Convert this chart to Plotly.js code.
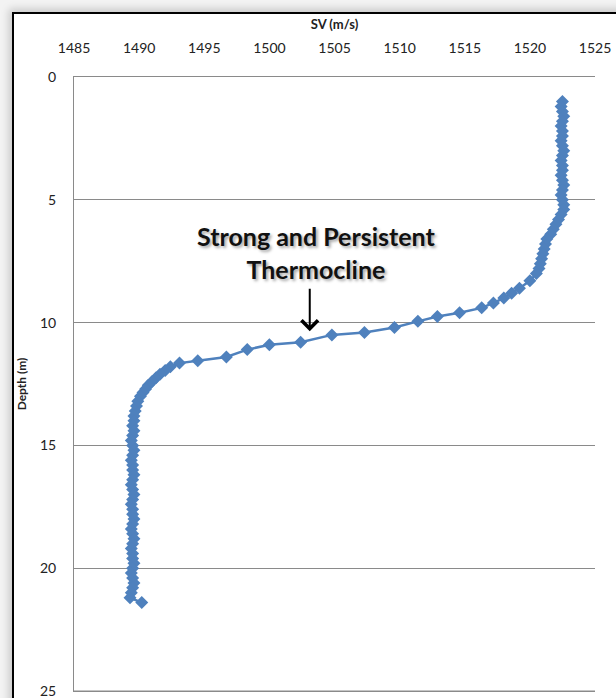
<!DOCTYPE html>
<html>
<head>
<meta charset="utf-8">
<script src="https://cdn.plot.ly/plotly-3.0.1.min.js"></script>
<style>
  html, body { margin: 0; padding: 0; background: #f3f3f3; }
  #frame { position: absolute; left: 12px; top: 12px; width: 720px; height: 800px;
           background: #ffffff; border-left: 2px solid #000; border-top: 2px solid #000;
           box-shadow: -3px -3px 8px rgba(0,0,0,0.18); }
  #chart { position: absolute; left: 0; top: 0; width: 616px; height: 698px; }
  #chart .annotation-text { text-shadow: 2px 2px 3px rgba(0,0,0,0.35); }
</style>
</head>
<body>
<div id="frame"></div>
<div id="chart"></div>
<script>
// Depth (m)
const depth = [
  1.0, 1.2, 1.4, 1.6, 1.8, 2.0, 2.2, 2.4, 2.6, 2.8, 3.0, 3.2, 3.4, 3.6, 3.8, 4.0, 4.2, 4.4, 4.6, 4.8, 5.0, 5.2,
  5.4, 5.6, 5.8, 6.0, 6.2, 6.4, 6.6, 6.8, 7.0, 7.2, 7.4, 7.6, 7.8, 8.0, 8.3, 8.6, 8.8, 9.0, 9.2, 9.4, 9.6, 9.75, 9.95, 10.2, 10.4, 10.5, 10.8, 10.9, 11.1, 11.4, 11.55, 11.65,
  11.8, 11.95, 12.1, 12.25, 12.4, 12.55, 12.7, 12.85, 13.0, 13.2, 13.4, 13.6, 13.8, 14.0, 14.2,
  14.4, 14.6, 14.8, 15.0, 15.2, 15.4, 15.6, 15.8, 16.0, 16.2, 16.4, 16.6, 16.8, 17.0, 17.2, 17.4, 17.6, 17.8, 18.0, 18.2, 18.4, 18.6, 18.8, 19.0, 19.2, 19.4, 19.6, 19.8, 20.0, 20.2, 20.4, 20.6, 20.8, 21.0, 21.2, 21.4
];
// Sound velocity (m/s)
const soundVelocity = [
  1522.5, 1522.4, 1522.5, 1522.6, 1522.5, 1522.4, 1522.5, 1522.5, 1522.4, 1522.5, 1522.6, 1522.5, 1522.4, 1522.5, 1522.5, 1522.4, 1522.5, 1522.6, 1522.5, 1522.4, 1522.5, 1522.6,
  1522.6, 1522.4, 1522.2, 1522.0, 1521.8, 1521.6, 1521.3, 1521.2, 1521.1, 1521.0, 1520.9, 1520.8, 1520.7, 1520.5, 1520.0, 1519.2, 1518.6, 1518.0, 1517.2, 1516.3, 1514.6, 1512.9, 1511.4, 1509.6, 1507.3, 1504.8, 1502.4, 1500.0, 1498.3, 1496.7, 1494.5, 1493.1,
  1492.4, 1492.0, 1491.6, 1491.3, 1491.0, 1490.7, 1490.5, 1490.3, 1490.1, 1489.9, 1489.8, 1489.7, 1489.6, 1489.6, 1489.5,
  1489.6, 1489.5, 1489.4, 1489.5, 1489.6, 1489.5, 1489.4, 1489.5, 1489.5, 1489.6, 1489.5, 1489.4, 1489.5, 1489.6, 1489.5, 1489.4, 1489.5, 1489.5, 1489.6, 1489.5, 1489.4, 1489.5, 1489.6, 1489.5, 1489.4, 1489.5, 1489.5, 1489.6, 1489.5, 1489.4, 1489.5, 1489.6, 1489.5, 1489.4, 1489.3, 1490.2
];
const xTicks = [1485, 1490, 1495, 1500, 1505, 1510, 1515, 1520, 1525];
const yTicks = [0, 5, 10, 15, 20, 25];

const tickFont = { family: "'Liberation Sans Narrow', Lato, sans-serif", size: 14, color: '#222' };

const trace = {
  x: soundVelocity, y: depth, type: 'scatter', mode: 'lines+markers',
  line: { color: '#4F81BD', width: 2.5 },
  marker: { symbol: 'diamond', size: 10, color: '#4F81BD' },
  hoverinfo: 'skip'
};

const layout = {
  width: 616, height: 698,
  margin: { l: 74, r: 21, t: 77, b: 7 },
  paper_bgcolor: 'rgba(0,0,0,0)', plot_bgcolor: 'rgba(0,0,0,0)',
  showlegend: false,
  xaxis: {
    side: 'top', range: [1485, 1525], tickvals: xTicks, ticktext: xTicks.map(String),
    showgrid: false, zeroline: false, showline: true, mirror: true, linecolor: '#8a8a8a', linewidth: 1,
    ticks: '', ticklabelstandoff: 17, tickfont: tickFont,
    title: { text: '<b>SV (m/s)</b>', font: { family: "'Liberation Sans Narrow', Lato, sans-serif", size: 13, color: '#222' }, standoff: 6 }
  },
  yaxis: {
    range: [25, 0], tickvals: yTicks, ticktext: yTicks.map(String),
    showgrid: true, gridcolor: '#8a8a8a', gridwidth: 1, zeroline: false,
    showline: true, mirror: false, linecolor: '#8a8a8a', linewidth: 1,
    ticks: '', ticklabelstandoff: 14, ticklabeloverflow: 'allow', tickfont: tickFont,
    title: { text: '<b>Depth (m)</b>', font: { family: "'Liberation Sans Narrow', Lato, sans-serif", size: 12, color: '#222' }, standoff: 10 }
  },
  shapes: [
    { type: 'line', xref: 'paper', yref: 'paper', x0: 0, x1: 1, y0: 0, y1: 0,
      line: { color: '#8a8a8a', width: 1 } }
  ],
  annotations: [
    { xref: 'x', yref: 'y', x: 1503.6, y: 7.15, text: '<b>Strong and Persistent<br>Thermocline</b>',
      showarrow: false, align: 'center', xanchor: 'center', yanchor: 'middle',
      font: { family: 'Lato, sans-serif', size: 25, color: '#111' } },
    { xref: 'x', yref: 'y', x: 1503.1, y: 10.35, text: '', showarrow: true,
      ax: 0, ay: -44, arrowhead: 4, arrowsize: 1.6, arrowwidth: 2, arrowcolor: '#000' }
  ]
};

Plotly.newPlot('chart', [trace], layout, { staticPlot: true, displayModeBar: false });
</script>
</body>
</html>
